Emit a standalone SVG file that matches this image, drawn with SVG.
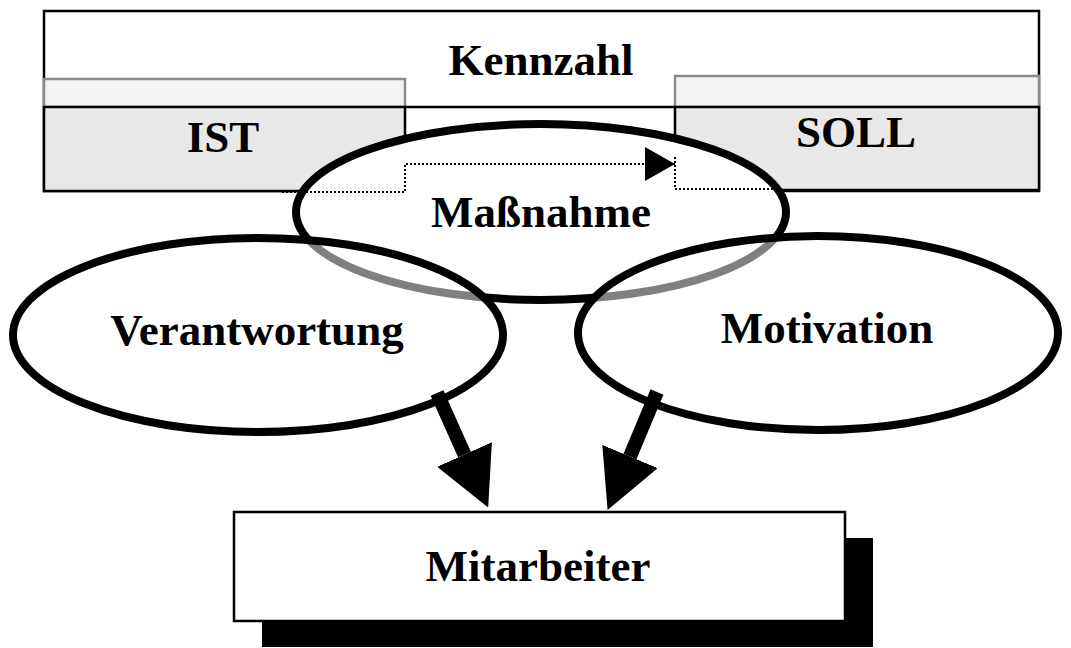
<svg xmlns="http://www.w3.org/2000/svg" width="1071" height="648" viewBox="0 0 1071 648">
  <style>
    .lbl { font-family: "Liberation Serif", "Times New Roman", serif; font-weight: bold; font-size: 45px; fill: #000; text-anchor: middle; }
    .cell { fill: #e8e8e8; stroke: #000; stroke-width: 2.5; }
    .band { fill: #f3f3f3; stroke: #8a8a8a; stroke-width: 2.5; }
    .oval { fill: #fff; stroke: #000; stroke-width: 8; }
    .oval-front { fill: #fff; fill-opacity: 0.5; stroke: #000; stroke-width: 8; }
    .dotted { fill: none; stroke: #000; stroke-width: 2; stroke-dasharray: 2 2; }
    .thick { stroke: #000; stroke-width: 14; fill: none; }
  </style>
  <defs>
    <marker id="bigHead" viewBox="0 -30 58 60" refX="0" refY="0" markerWidth="58" markerHeight="60" markerUnits="userSpaceOnUse" orient="auto">
      <path d="M0,-30 L58,0 L0,30 z" fill="#000"/>
    </marker>
    <marker id="smallHead" viewBox="0 -17 30 34" refX="30" refY="0" markerWidth="30" markerHeight="34" markerUnits="userSpaceOnUse" orient="auto">
      <path d="M0,-17 L30,0 L0,17 z" fill="#000"/>
    </marker>
  </defs>

  <rect width="1071" height="648" fill="#fff"/>

  <!-- Kennzahl table with IST / SOLL cells -->
  <g id="kennzahl">
    <rect x="44" y="11" width="995" height="180" fill="#fff" stroke="#000" stroke-width="2.5"/>
    <text class="lbl" x="541" y="75">Kennzahl</text>
  </g>
  <g id="ist">
    <rect class="band" x="44" y="79" width="361" height="28"/>
    <rect class="cell" x="44" y="107" width="361" height="84"/>
    <text class="lbl" x="223" y="152">IST</text>
  </g>
  <g id="soll">
    <rect class="band" x="675" y="76" width="364" height="31"/>
    <rect class="cell" x="675" y="107" width="364" height="83"/>
    <text class="lbl" x="856" y="147">SOLL</text>
  </g>
  <line x1="405" y1="107" x2="675" y2="107" stroke="#000" stroke-width="2.5"/>

  <!-- Massnahme ellipse -->
  <g id="massnahme">
    <ellipse class="oval" cx="541" cy="212" rx="245" ry="88"/>
    <text class="lbl" x="541" y="227">Maßnahme</text>
  </g>

  <!-- Verantwortung / Motivation ellipses (drawn over the Massnahme outline) -->
  <g id="verantwortung">
    <ellipse class="oval-front" cx="258" cy="335" rx="245" ry="97"/>
    <text class="lbl" x="257" y="345">Verantwortung</text>
  </g>
  <g id="motivation">
    <ellipse class="oval-front" cx="818" cy="333" rx="240" ry="97"/>
    <text class="lbl" x="827" y="343">Motivation</text>
  </g>

  <!-- Mitarbeiter box with drop shadow -->
  <g id="mitarbeiter">
    <rect x="262" y="538" width="611" height="109" fill="#000"/>
    <rect x="234" y="512" width="611" height="109" fill="#fff" stroke="#000" stroke-width="2.5"/>
    <text class="lbl" x="538" y="581">Mitarbeiter</text>
  </g>

  <!-- connectors -->
  <g id="connectors">
    <path class="dotted" d="M282,192 H405 V164 H675" marker-end="url(#smallHead)"/>
    <path class="dotted" d="M675,157 V189 H778"/>
    <line class="thick" x1="437" y1="393" x2="464.5" y2="454.5" marker-end="url(#bigHead)"/>
    <line class="thick" x1="657" y1="392" x2="630" y2="456.5" marker-end="url(#bigHead)"/>
  </g>
</svg>
